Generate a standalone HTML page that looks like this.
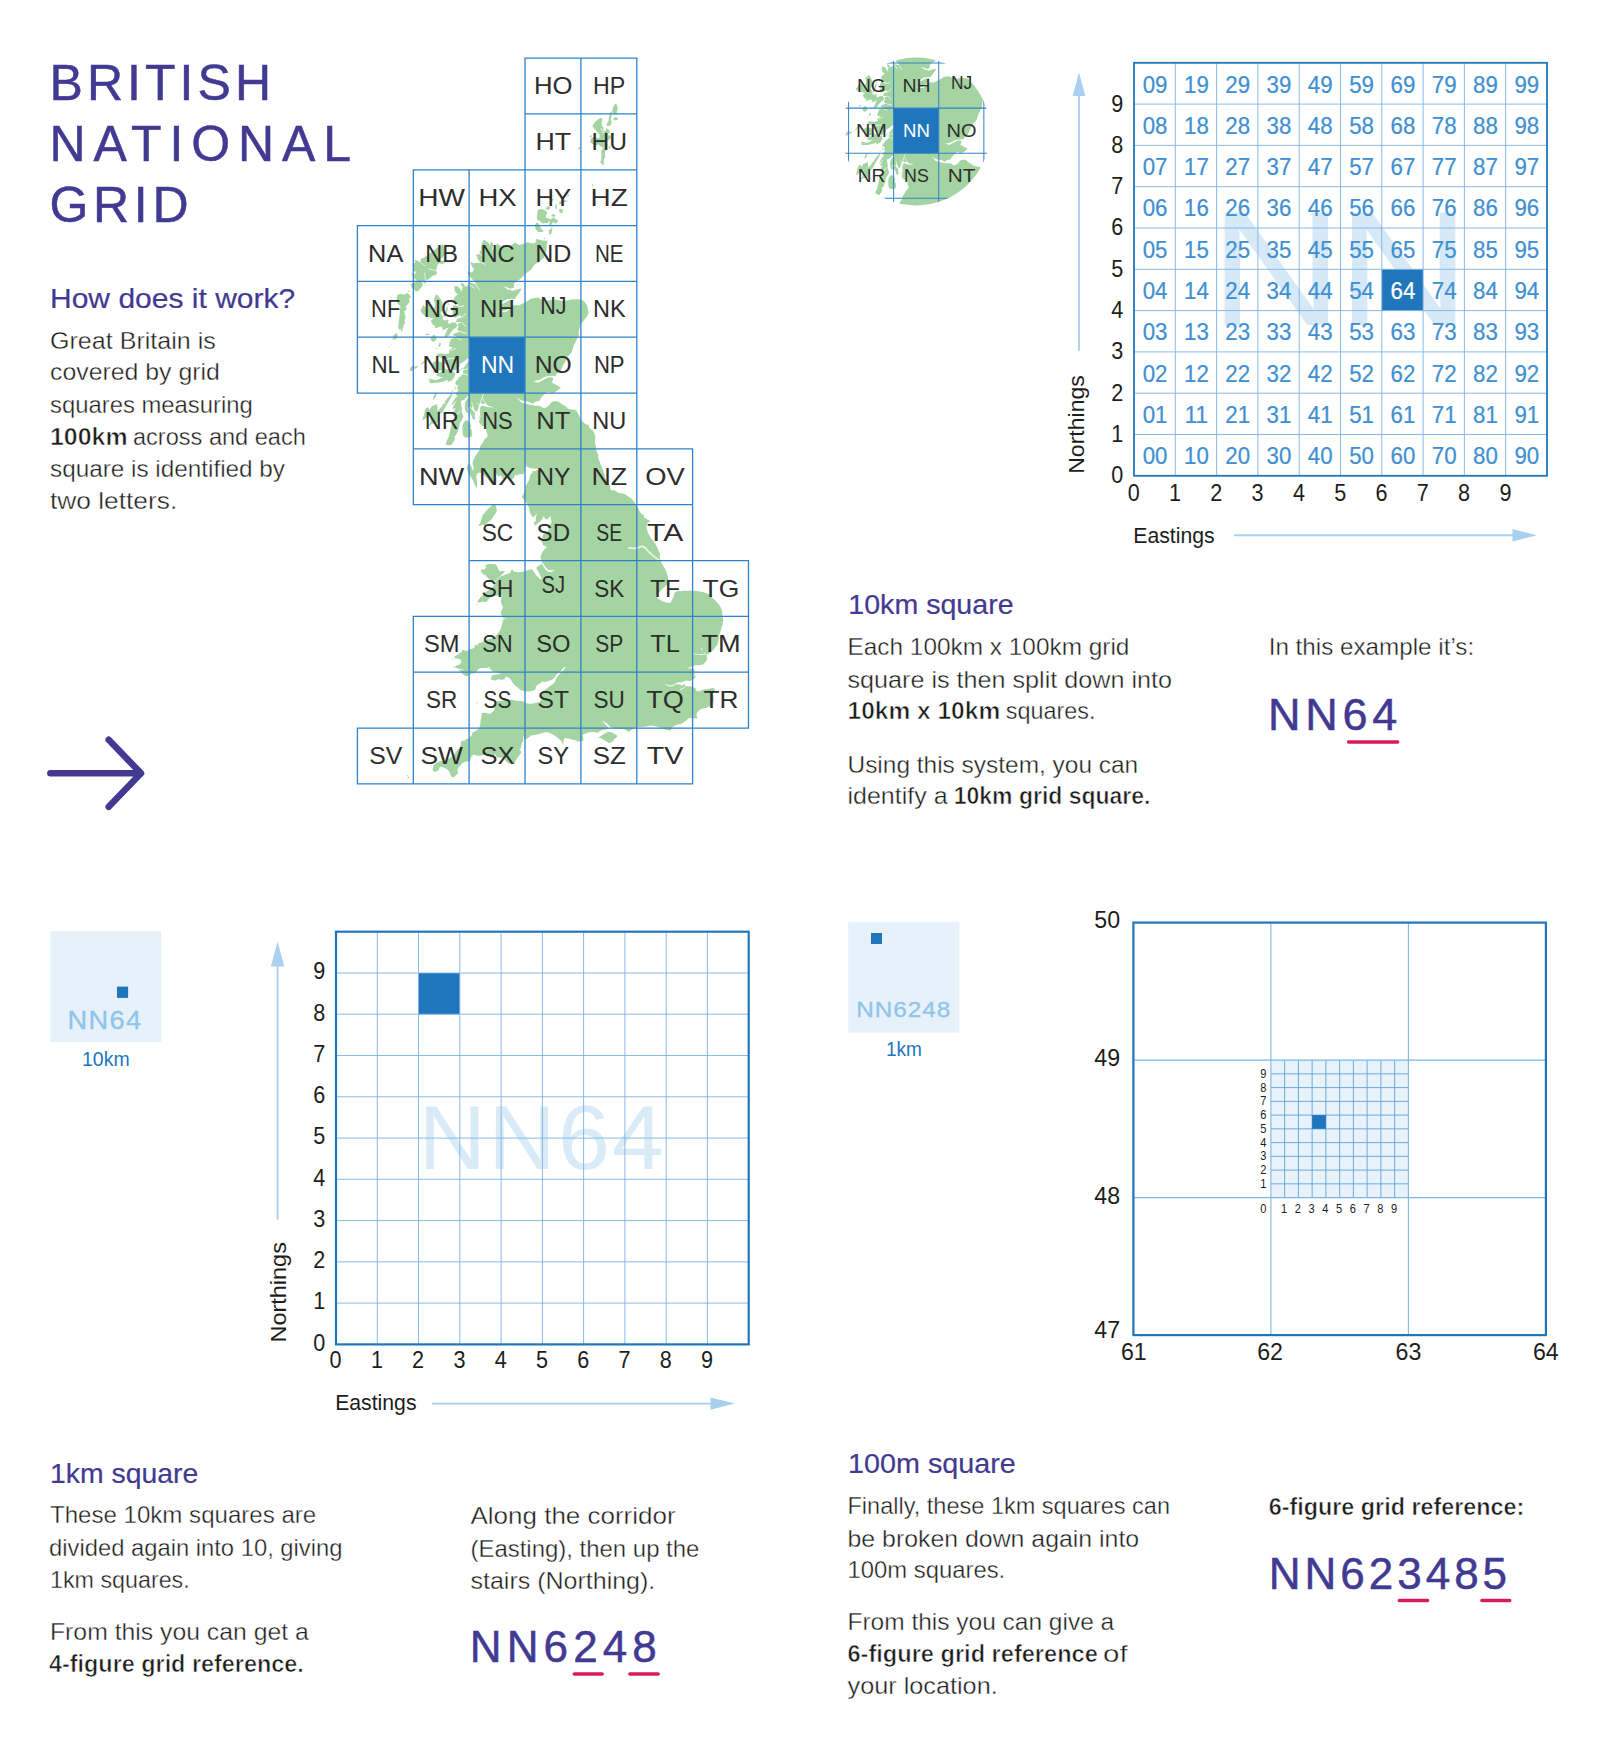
<!DOCTYPE html>
<html lang="en"><head><meta charset="utf-8"><title>British National Grid</title>
<style>html,body{margin:0;padding:0;background:#fff}svg{display:block}text{font-family:"Liberation Sans", sans-serif}</style>
</head><body>
<svg width="1597" height="1739" viewBox="0 0 1597 1739">
<rect width="1597" height="1739" fill="#fff"/>
<defs>
<g id="land">
<path fill="#a5d4a3" d="M483.7,239.5 486.5,241.2 489.3,243.5 489.8,246.8 490.9,241.5 493.2,244.0 492.0,250.7 494.8,247.9 497.1,243.2 500.4,245.7 501.0,251.3 502.7,245.7 506.0,245.7 508.5,246.8 511.6,245.1 515.2,242.6 518.9,245.1 523.9,243.7 527.8,242.3 531.4,243.2 535.1,243.2 536.5,238.7 540.1,240.1 544.0,240.7 547.6,240.4 546.8,245.1 546.5,250.7 545.4,252.9 544.0,257.4 538.7,261.9 534.2,265.0 531.7,268.9 526.7,273.0 523.3,276.1 520.0,279.2 515.8,281.7 513.8,283.9 514.1,287.6 510.5,288.7 506.0,287.0 503.2,286.2 507.1,289.2 510.5,290.1 512.7,290.9 516.6,289.5 521.9,288.4 519.4,292.6 517.5,295.1 514.7,299.0 511.6,298.7 508.2,299.3 503.8,301.5 500.1,304.6 503.8,303.2 508.2,300.7 513.3,299.6 512.2,303.8 511.0,306.3 508.2,308.2 506.0,310.5 502.1,311.3 498.8,311.3 502.7,312.1 506.3,311.6 509.4,309.3 512.2,305.7 515.5,305.1 518.6,305.4 523.3,303.2 527.2,301.2 531.2,298.7 534.5,297.9 538.1,297.6 541.8,299.8 544.6,300.7 548.8,300.4 553.5,299.6 558.0,300.1 563.6,301.2 567.5,300.4 571.1,299.6 577.0,299.3 580.9,299.6 583.7,301.0 587.0,304.9 588.4,311.6 588.4,313.8 586.2,317.4 583.1,321.3 581.2,323.6 579.2,328.9 578.4,333.9 579.2,334.5 577.0,338.9 573.9,345.3 572.5,349.5 571.7,352.6 569.1,355.1 566.9,357.3 565.5,361.3 563.6,364.6 561.9,368.0 560.8,370.5 558.5,372.4 556.3,374.1 555.5,376.1 552.9,375.8 550.7,376.1 547.4,376.3 544.0,377.2 540.1,379.7 536.2,380.5 533.4,381.4 536.7,382.2 538.1,382.8 541.8,380.8 545.7,378.8 548.5,377.4 550.7,376.9 553.2,378.0 552.7,380.8 551.5,382.2 553.5,383.6 556.9,385.3 560.8,387.5 559.4,388.9 556.6,391.1 552.4,393.4 549.6,392.0 547.9,391.7 546.2,392.8 543.4,395.3 540.9,397.8 540.1,400.3 538.1,401.2 535.6,401.5 532.3,404.0 530.9,402.6 527.2,401.5 523.9,400.9 521.1,400.3 518.3,398.4 516.6,397.5 518.9,399.8 521.1,402.6 525.0,403.4 528.9,404.5 532.3,405.1 535.6,405.9 537.9,405.6 540.1,405.9 542.3,407.6 544.3,408.2 547.4,406.8 550.2,404.0 551.0,402.6 553.5,401.2 556.0,401.2 558.3,401.5 560.8,403.4 563.0,404.8 566.6,407.0 568.6,409.0 572.5,409.5 575.9,410.1 577.8,412.9 579.5,416.5 580.9,419.6 583.7,422.7 586.5,424.6 588.4,425.5 589.3,427.7 591.2,429.4 593.2,431.0 594.0,432.7 595.1,435.5 595.4,437.7 595.1,440.5 594.8,443.0 596.0,446.4 596.2,448.9 596.5,451.1 597.9,453.9 598.5,455.6 598.2,457.8 598.8,459.5 599.9,462.3 600.7,464.5 601.6,466.2 601.8,467.1 602.9,470.1 603.8,472.4 604.6,475.2 604.9,477.1 606.6,480.7 608.8,484.1 610.2,485.8 609.9,488.0 611.0,490.2 612.7,490.2 615.0,490.5 618.0,492.7 621.1,493.3 624.7,494.1 628.4,496.4 631.2,498.3 634.2,501.9 635.6,503.9 637.9,507.5 639.5,510.9 641.2,513.7 644.0,515.1 643.5,516.7 646.8,519.3 651.0,521.2 647.9,522.6 647.1,523.7 646.5,527.1 647.4,531.0 648.5,534.1 650.7,537.7 653.5,541.3 656.0,544.9 658.0,549.4 659.9,553.6 659.7,556.7 659.9,558.9 660.8,561.1 662.5,564.5 665.2,568.9 666.9,573.4 668.3,578.4 668.6,581.2 667.8,584.0 664.7,586.8 661.3,590.2 658.0,593.5 656.3,595.7 657.4,598.0 659.7,599.7 662.5,601.3 664.4,601.9 667.5,602.7 670.3,603.0 671.9,600.2 672.8,598.0 673.9,595.7 674.5,593.0 676.4,591.3 680.3,591.3 684.2,590.7 688.2,590.7 691.5,590.7 694.9,590.7 699.3,591.6 702.7,592.1 704.9,592.7 708.3,594.1 711.6,596.9 715.0,600.2 717.8,603.3 720.0,606.1 721.4,609.1 722.2,612.2 722.5,615.8 723.3,620.3 722.8,623.7 721.7,627.0 721.1,629.8 719.4,634.3 718.9,637.6 718.6,640.4 717.8,644.3 715.5,647.1 713.3,649.9 711.1,652.1 709.4,653.2 708.3,654.4 704.9,653.0 702.1,649.9 704.9,653.5 707.1,654.1 703.8,654.1 699.9,654.1 698.2,654.4 701.6,654.9 704.9,654.6 707.1,654.4 706.6,657.2 707.4,659.1 705.5,662.2 702.7,664.4 699.3,665.3 697.1,665.3 694.3,665.0 692.6,666.4 689.8,667.2 687.0,668.3 689.8,668.6 692.6,668.3 694.6,669.4 694.3,673.3 694.6,675.6 691.5,674.7 694.3,676.1 694.9,677.8 692.6,680.0 689.5,680.9 686.5,680.6 682.6,681.7 679.2,682.3 677.0,682.8 673.1,685.1 669.7,685.6 666.4,684.2 663.6,683.4 666.4,685.1 669.2,686.5 673.1,686.2 675.9,684.2 679.2,684.2 682.0,685.6 684.2,684.0 685.9,685.9 687.6,686.2 689.3,686.5 692.6,687.0 695.4,688.4 696.5,690.9 699.3,691.2 702.7,689.8 707.1,689.0 710.5,688.4 712.7,688.1 715.0,689.0 714.7,691.8 712.7,693.4 713.6,696.8 713.9,699.0 713.3,702.4 711.3,704.9 709.4,706.3 706.6,707.7 703.2,708.5 699.9,709.6 697.1,712.4 696.5,715.5 697.6,718.6 694.3,718.3 690.9,718.0 688.7,718.0 685.9,720.8 683.1,722.8 680.3,724.2 677.5,724.4 674.7,725.8 671.9,727.5 670.8,730.3 669.4,730.6 666.4,729.7 663.6,728.9 661.3,728.1 658.0,726.9 654.1,726.1 650.2,725.5 646.2,726.4 642.3,726.9 638.4,727.2 635.1,728.1 632.3,729.2 630.0,730.9 628.6,732.2 626.1,730.3 624.5,729.2 622.2,728.9 620.0,728.3 617.2,728.6 614.4,728.3 612.2,728.1 609.9,726.7 608.3,724.7 606.0,722.8 603.8,721.4 602.1,720.8 603.8,722.8 606.0,725.0 607.7,726.9 608.8,728.3 606.6,729.2 603.8,729.7 601.6,730.3 599.3,731.4 597.6,733.1 595.4,732.2 592.6,732.0 589.8,732.2 586.5,733.1 583.7,734.2 582.6,735.0 583.1,736.7 583.1,738.1 583.7,739.8 582.6,740.9 579.8,741.5 578.6,741.7 575.3,740.3 571.9,739.5 568.6,738.4 565.2,738.1 563.8,739.2 563.6,742.0 563.0,745.6 562.4,742.9 561.6,741.5 558.5,738.4 555.7,736.2 552.4,734.2 549.0,732.8 545.7,732.2 543.4,732.8 540.7,733.6 537.9,734.5 535.1,735.0 531.7,735.3 528.9,737.3 526.1,739.2 524.7,739.8 523.9,737.0 523.3,735.0 523.3,738.4 523.1,740.9 521.7,743.1 521.4,745.4 520.8,747.9 519.4,749.8 521.7,752.1 520.0,754.3 518.9,755.7 517.2,758.2 515.5,760.4 515.2,763.2 512.7,763.8 510.5,763.5 508.2,763.2 506.0,761.3 504.3,758.8 501.5,757.6 498.2,757.4 496.2,756.5 495.4,754.6 493.7,754.9 493.4,757.1 490.4,755.1 487.0,754.3 483.7,754.9 480.3,755.7 476.4,755.4 473.6,754.6 471.4,756.5 470.0,759.9 469.1,761.8 466.3,761.6 463.6,762.4 461.3,764.3 460.2,766.3 459.4,766.0 458.0,768.3 457.4,770.5 458.2,772.7 456.8,774.4 454.6,776.4 452.7,777.5 450.7,776.1 449.9,772.7 447.9,769.7 445.1,768.3 442.3,766.9 439.8,767.1 439.0,769.7 436.7,771.3 434.2,771.9 432.5,769.9 433.1,767.1 433.9,764.6 437.3,762.4 440.1,761.0 442.3,761.0 444.6,762.1 445.7,760.2 449.0,758.5 452.4,756.0 454.6,754.3 456.3,751.5 458.0,749.3 460.2,747.3 460.8,744.3 461.0,741.2 463.0,740.9 464.7,740.6 466.3,738.9 469.1,738.4 471.7,735.3 472.5,732.8 475.3,731.1 478.1,729.5 480.0,726.4 480.3,724.2 480.6,720.8 481.4,717.5 481.7,713.0 485.3,712.7 489.3,714.1 492.0,712.4 493.2,711.3 494.8,709.6 493.7,707.1 492.6,705.4 494.3,703.2 494.0,702.4 497.1,701.3 501.0,701.0 504.3,700.4 508.2,700.1 511.3,699.6 515.0,700.4 518.3,701.0 521.7,701.0 523.9,701.8 527.2,703.5 530.6,703.8 534.5,703.2 537.3,702.4 539.5,702.1 541.2,700.1 541.8,697.4 541.5,695.1 542.9,693.2 542.3,690.9 544.6,690.1 546.8,688.4 549.6,686.2 551.8,684.8 553.5,683.7 555.2,681.2 556.3,678.4 558.5,675.0 561.3,672.2 564.1,669.4 565.8,666.6 563.6,667.8 560.2,671.7 556.9,674.2 555.2,676.4 552.9,679.2 550.2,680.3 547.4,681.4 544.6,682.0 542.6,681.4 539.5,683.7 537.3,685.1 535.9,686.5 535.3,689.8 532.8,690.7 531.2,691.2 527.8,691.5 523.9,690.9 520.5,690.1 517.7,687.6 515.0,685.6 512.7,683.1 511.0,680.0 508.8,677.5 506.0,676.4 504.9,678.4 504.3,679.5 501.0,679.8 498.2,679.2 496.0,680.6 493.2,680.3 490.6,679.2 491.5,676.7 493.2,675.0 496.0,674.5 499.3,674.2 501.0,673.9 498.2,673.1 496.5,672.5 493.7,672.2 491.5,670.3 489.5,668.3 489.3,666.6 487.6,668.0 484.8,668.0 482.0,668.0 479.2,668.6 477.2,670.3 476.7,672.0 474.7,673.3 471.9,673.6 469.1,674.7 467.7,676.1 465.2,675.9 463.0,674.5 461.3,672.0 459.1,670.8 458.0,670.6 461.3,670.0 464.7,669.7 461.3,669.2 458.8,668.9 455.7,667.5 453.8,667.2 456.8,665.5 459.6,664.4 461.3,662.2 460.8,659.7 458.0,658.6 455.7,658.8 453.8,656.9 456.3,655.2 459.1,654.1 461.3,652.1 463.3,649.3 465.2,650.7 466.9,651.0 469.1,649.6 471.9,649.1 474.2,647.4 475.8,644.3 478.1,645.7 478.1,643.2 481.4,642.6 484.8,640.7 487.6,639.8 490.6,638.5 493.2,637.6 494.8,636.8 497.6,633.7 499.9,630.4 501.5,626.7 502.4,623.1 502.9,620.0 503.8,618.9 506.6,618.4 503.8,618.1 502.4,617.5 501.5,615.0 500.7,611.9 502.1,609.4 503.2,607.5 501.5,604.1 501.0,600.8 501.3,598.5 501.0,596.3 502.7,594.9 499.9,595.5 497.1,595.5 493.7,596.3 490.6,597.1 488.1,599.4 487.0,601.6 484.8,602.2 482.5,601.6 480.3,602.4 478.4,602.2 477.0,602.2 478.4,599.7 480.9,596.9 484.2,593.5 487.6,591.0 490.4,589.3 493.2,586.5 494.6,583.7 495.7,581.5 498.2,578.7 500.1,576.8 501.8,575.9 504.3,575.1 507.1,574.0 509.9,572.9 511.6,569.8 512.7,569.5 513.3,571.2 515.5,572.0 518.3,572.3 521.7,572.0 525.0,570.9 528.4,570.1 532.0,568.9 533.9,571.7 535.6,574.2 537.6,576.8 539.5,578.7 541.8,579.6 541.2,577.3 539.8,574.5 538.4,571.7 536.7,568.9 536.5,567.0 537.9,566.4 540.1,564.8 541.8,563.6 543.2,566.2 544.6,568.4 546.2,570.3 548.5,572.0 551.8,572.0 554.6,570.1 551.3,570.3 548.5,570.1 546.2,567.8 544.6,565.6 542.3,562.5 541.2,560.3 540.4,557.5 541.2,554.4 542.9,551.6 544.6,549.1 546.8,547.2 544.8,545.8 543.2,545.2 542.3,543.0 542.1,540.5 542.3,537.1 543.2,534.6 544.0,533.5 545.7,534.3 547.4,532.1 549.0,529.6 547.9,527.4 548.5,526.0 550.2,524.6 551.5,522.6 551.3,520.4 550.7,518.7 551.0,516.2 549.0,517.6 547.9,519.0 546.2,519.5 544.6,517.9 543.7,515.9 542.9,517.9 541.8,519.8 540.1,521.8 537.9,522.9 536.7,524.3 535.3,525.4 534.5,522.6 535.9,520.4 535.6,518.4 536.2,516.2 536.7,514.0 534.8,515.6 533.9,517.6 531.7,515.9 530.0,512.8 529.5,509.8 528.6,506.7 526.7,503.3 524.7,500.3 522.8,498.3 521.9,496.6 523.1,494.7 524.2,491.9 524.7,488.8 525.8,486.3 526.7,484.1 528.4,481.6 529.5,479.1 530.0,476.3 530.9,473.8 532.8,472.4 531.7,470.7 534.5,471.2 536.7,470.1 539.5,470.4 542.3,468.7 543.2,467.9 540.1,468.2 537.3,468.7 535.9,468.7 532.8,468.5 530.0,467.9 527.8,467.3 526.1,465.4 524.7,467.9 524.5,471.0 523.6,473.2 523.6,474.3 520.5,474.3 518.3,474.6 516.6,476.0 515.5,473.8 514.4,477.1 512.7,479.1 510.5,480.5 508.2,480.2 507.1,476.8 506.0,479.6 504.9,480.5 502.7,478.5 501.5,476.3 500.7,474.9 499.3,476.5 497.6,475.4 496.0,473.5 495.1,471.8 494.0,474.0 494.3,477.9 495.4,481.3 496.0,484.4 494.3,485.5 491.5,484.1 489.3,481.6 487.6,478.5 484.8,476.0 482.0,474.0 480.0,472.6 477.5,473.5 476.1,476.3 476.7,479.6 477.2,483.0 477.0,486.0 477.8,487.7 475.8,486.9 474.4,483.8 473.1,480.5 470.8,477.1 468.9,474.6 467.7,471.2 466.9,467.9 467.5,464.8 468.0,464.3 470.0,464.5 471.1,466.2 472.2,469.0 472.5,470.4 473.9,468.5 473.1,465.4 472.5,462.9 473.6,459.5 475.3,456.2 477.0,453.4 479.5,450.0 480.3,446.1 482.5,443.3 484.8,438.9 487.6,436.6 487.3,433.8 486.5,431.6 485.9,427.7 484.2,426.6 482.0,425.5 480.0,423.8 478.9,421.6 480.0,418.8 480.3,416.0 480.0,413.2 479.8,410.4 480.3,408.2 480.6,406.5 482.5,405.6 484.8,406.2 487.0,407.0 489.3,407.3 491.5,407.3 494.3,408.4 491.5,406.5 489.3,405.9 487.6,405.4 485.6,403.1 484.2,404.0 482.0,404.0 480.6,402.6 479.8,404.0 478.6,404.8 478.9,405.9 478.1,408.7 476.7,411.5 474.7,410.9 473.9,408.2 472.8,404.8 472.2,407.0 471.7,409.0 470.8,407.6 469.1,407.6 467.7,408.4 468.6,410.9 468.6,413.5 466.3,412.6 465.2,410.4 464.7,406.5 465.2,402.0 466.9,399.5 469.1,396.4 467.7,395.9 465.2,398.7 463.3,400.3 461.9,400.3 460.8,401.5 461.3,405.4 461.9,408.7 461.6,410.7 462.4,413.7 463.6,416.8 461.9,419.9 459.6,423.8 459.1,427.7 458.0,431.0 456.3,434.4 454.1,437.2 455.2,438.0 454.1,441.1 452.4,443.6 451.8,444.7 449.0,445.3 446.2,445.0 446.0,442.8 447.1,440.0 448.5,437.5 449.3,434.4 450.1,431.0 450.7,427.7 452.1,423.2 453.2,420.4 454.6,417.1 453.5,415.4 452.7,413.2 453.8,410.9 455.7,408.2 453.5,408.7 452.1,408.7 453.5,405.9 455.7,402.0 456.8,399.8 454.6,402.6 452.4,405.1 451.5,405.4 452.4,402.6 454.1,399.8 455.7,397.5 457.4,396.4 456.3,395.0 455.7,393.6 457.4,391.7 459.1,389.5 457.7,389.7 457.1,387.5 458.8,385.5 456.8,385.3 455.2,383.9 455.7,381.6 457.4,379.7 459.1,378.0 460.8,376.6 461.9,374.4 463.3,373.5 463.0,371.6 463.8,369.6 463.0,368.5 464.4,366.8 466.1,364.6 468.0,362.1 469.7,360.7 470.3,359.0 469.7,357.3 465.8,359.9 463.3,362.1 459.9,363.8 459.4,367.1 456.8,369.1 454.3,370.7 452.9,369.6 451.3,368.2 448.5,366.0 445.7,364.0 444.0,362.4 443.7,360.4 445.7,359.9 448.5,359.3 451.8,358.2 449.6,357.9 447.4,358.7 444.6,358.5 442.3,358.5 440.6,357.6 438.4,357.1 436.5,355.4 437.9,353.7 440.6,353.4 442.9,353.7 445.7,354.0 448.5,353.4 449.9,352.3 448.7,351.2 449.3,349.5 451.3,348.7 453.5,347.6 451.3,347.3 449.0,346.2 448.7,344.8 449.9,344.2 449.3,342.8 450.4,341.2 451.0,338.9 452.9,338.6 456.0,337.5 457.4,338.4 455.7,336.1 453.8,336.1 452.9,334.7 454.6,333.3 456.8,332.8 458.5,331.9 460.5,331.7 458.5,330.6 456.8,329.7 458.0,327.8 458.8,326.4 458.0,325.5 458.0,323.6 459.6,323.0 461.3,322.7 462.4,322.7 460.2,321.9 458.0,322.2 456.0,321.9 456.8,319.4 458.2,318.3 460.2,318.0 462.2,317.2 460.8,316.3 459.6,315.2 457.7,316.6 455.2,317.7 452.9,316.3 452.4,314.4 452.9,312.4 452.1,309.9 452.4,307.7 453.5,304.9 455.2,305.4 457.4,306.0 459.1,306.5 458.0,304.6 455.7,303.8 454.3,302.4 453.8,298.7 455.2,296.5 457.1,295.1 458.2,294.3 456.6,293.4 455.2,292.0 454.3,288.7 454.6,285.9 456.8,285.9 458.5,287.0 460.2,289.2 461.3,291.7 462.2,289.2 462.7,287.0 461.0,284.8 461.3,282.3 463.3,283.7 464.9,285.9 466.3,286.7 467.7,285.0 468.6,284.2 468.3,282.3 470.3,283.1 471.9,283.1 474.4,283.9 476.1,284.8 475.0,282.0 473.1,280.3 470.8,277.5 468.9,275.3 467.7,273.0 468.0,271.1 470.0,271.9 471.9,272.5 473.3,270.8 474.2,268.9 472.5,267.5 471.4,265.2 470.3,261.6 471.9,262.4 473.9,263.3 475.8,263.0 478.6,262.7 481.4,262.7 479.2,261.3 477.8,259.6 477.2,258.0 477.2,256.0 476.4,254.6 478.4,254.3 480.3,254.3 479.5,252.7 480.0,251.0 481.4,249.9 480.6,247.9 481.4,245.1 482.5,242.1Z"/>
<path fill="#a5d4a3" d="M436.0,294.3 438.1,295.4 440.6,299.0 442.3,302.6 442.6,306.5 442.0,310.5 440.6,313.0 442.3,315.5 443.2,318.3 442.9,320.2 444.6,319.9 446.5,320.8 448.5,323.3 449.3,324.1 451.8,322.5 453.8,322.2 455.5,322.5 457.1,324.4 457.4,326.1 455.5,328.0 452.9,330.0 450.7,332.8 449.3,335.0 446.8,337.2 444.6,337.5 444.8,335.0 446.2,332.5 446.8,330.6 448.2,328.3 449.9,327.5 446.8,328.3 444.6,329.4 442.3,330.0 442.6,327.5 441.2,326.4 439.2,326.9 436.2,328.0 434.5,328.3 435.3,326.1 433.4,325.0 431.7,323.0 430.9,320.5 432.3,319.4 434.2,318.5 432.0,318.3 430.0,317.4 428.4,316.9 427.2,317.2 425.0,316.0 422.5,314.1 420.5,310.7 421.7,308.2 423.3,305.1 425.0,307.1 427.0,309.9 427.8,307.1 426.7,304.3 426.1,300.1 427.8,301.5 429.5,304.3 431.7,306.5 433.9,308.5 435.1,306.0 434.8,303.2 433.9,300.4 434.8,297.1Z M443.7,317.4 445.7,316.0 446.8,313.0 447.6,309.9 447.9,306.5 446.8,307.1 445.7,309.9 444.6,313.0 443.4,314.9Z M447.6,305.7 448.7,304.6 448.5,302.4 447.6,303.2Z M432.5,362.7 435.6,361.0 438.4,361.3 441.5,362.1 442.9,364.9 444.3,367.1 445.4,368.8 447.4,369.6 450.1,370.2 452.4,371.0 454.1,372.1 455.2,373.3 454.9,375.8 453.8,377.7 452.4,380.0 450.1,381.1 447.9,381.9 447.1,379.4 445.7,380.8 443.4,381.4 440.1,382.2 436.7,382.8 433.4,383.0 430.6,383.3 429.2,382.2 429.8,380.0 430.6,378.8 432.8,379.4 435.6,380.2 438.4,379.4 441.2,378.0 443.4,377.2 440.6,376.9 438.4,376.3 437.3,376.1 436.2,374.7 437.6,373.0 439.5,373.3 441.2,371.6 443.2,370.5 440.6,370.5 438.1,370.5 436.2,369.6 434.5,370.5 433.7,369.1 435.3,367.7 433.7,366.8 432.3,365.2Z M428.4,380.5 428.9,378.6 429.8,378.8 429.2,380.8Z M420.3,364.0 423.3,361.8 425.8,359.6 427.8,357.6 428.1,358.5 425.8,361.0 423.6,363.2 421.4,364.3Z M409.6,370.2 411.0,366.6 413.3,366.0 415.5,366.8 418.0,365.7 418.3,366.6 415.8,368.5 413.5,368.8 412.2,370.7 410.5,371.3Z M430.9,337.2 433.4,334.7 435.9,335.9 436.7,338.6 435.1,341.2 432.5,341.7 430.6,339.5Z M438.1,346.2 439.5,342.8 440.9,343.1 440.6,345.6 439.5,346.7Z M425.0,334.2 428.4,333.6 429.5,334.7 426.7,335.3Z M435.9,349.0 436.7,347.9 437.6,348.4 436.7,349.3Z M432.8,398.9 433.9,395.9 435.6,392.8 436.7,393.4 435.9,396.4 434.5,398.7 433.4,399.8Z M437.3,411.5 439.5,409.0 441.8,406.5 442.9,404.0 445.1,403.1 444.6,401.7 446.2,399.8 449.0,396.4 451.0,393.9 452.1,392.8 452.1,394.8 451.0,397.8 449.0,400.9 447.4,403.7 445.7,406.5 444.3,409.5 442.9,411.8 441.2,413.5 439.0,413.5 437.6,412.6Z M437.0,404.5 437.6,407.6 437.3,410.1 438.1,413.2 439.0,416.8 438.7,419.9 437.9,422.4 435.6,423.8 433.7,423.8 432.0,423.5 429.8,425.7 428.4,426.3 429.5,424.1 430.6,421.8 430.6,418.8 430.3,416.0 429.5,414.3 428.1,415.1 427.2,417.1 425.0,419.0 422.5,420.2 423.0,417.6 424.2,414.3 424.7,410.7 425.8,408.2 428.1,407.3 429.5,410.1 430.6,408.2 431.7,406.2 433.9,405.4 436.2,404.2Z M448.7,423.2 449.9,420.4 450.7,418.5 450.1,421.3 449.3,423.5Z M466.6,419.9 468.6,421.6 470.3,423.5 470.8,426.6 470.5,428.5 471.9,430.2 471.9,432.7 472.2,435.0 471.1,436.9 468.6,437.5 465.8,437.5 463.6,436.6 462.7,434.1 462.7,430.8 462.4,428.0 462.7,425.2 463.8,422.4 465.2,420.7Z M470.0,407.9 471.4,408.7 472.8,410.7 473.9,411.5 475.0,412.9 474.7,415.7 475.3,417.9 474.2,419.9 472.5,418.8 471.9,416.2 471.1,414.3 470.0,412.9 469.4,410.4 469.1,408.7Z M478.4,418.2 479.2,416.2 479.8,417.4 478.9,418.8Z M495.1,503.6 496.2,507.5 496.8,509.5 496.5,512.0 494.3,515.1 492.0,518.7 490.9,520.1 488.7,521.8 486.5,524.0 484.8,525.1 482.3,524.8 480.0,525.7 478.1,525.4 479.8,523.7 480.9,521.2 481.7,518.4 482.5,515.3 484.8,512.8 487.0,510.0 489.8,507.3 492.3,505.0Z M597.1,738.1 599.9,736.7 602.7,734.8 606.0,733.1 608.5,731.4 611.0,732.2 613.8,733.6 616.1,734.8 617.5,736.2 616.4,737.6 614.4,738.7 613.6,740.3 612.2,742.0 609.4,742.9 608.5,743.1 605.7,740.9 603.2,739.5 600.4,738.1 598.2,737.8Z M500.1,576.2 502.1,574.2 502.9,574.0 504.9,570.9 502.1,570.9 499.3,571.2 497.9,568.1 496.0,564.5 493.2,564.2 489.8,563.9 486.7,564.5 485.6,564.8 485.9,567.3 484.8,569.2 482.5,569.5 481.2,569.2 480.9,571.7 482.8,573.4 483.7,575.1 485.6,574.8 486.7,577.0 488.4,578.7 490.4,579.8 491.8,581.5 493.2,581.2 494.3,580.4 495.7,580.7 497.1,579.0 499.0,577.3Z M476.4,703.5 477.0,701.3 477.5,701.5 477.2,703.8Z M407.1,778.3 408.5,776.6 409.4,777.5 408.2,778.6Z M406.3,776.1 407.1,775.0 408.0,775.5 407.1,776.4Z M442.3,244.3 444.3,247.4 444.0,250.7 444.6,254.9 442.3,258.0 440.1,259.6 441.2,261.0 443.4,260.5 445.4,260.5 444.3,263.3 441.8,264.4 440.1,263.3 438.7,263.6 437.3,265.5 436.7,268.3 436.2,270.8 437.0,273.9 434.5,275.6 432.3,275.8 430.6,277.8 428.4,279.2 425.6,280.3 425.6,283.7 423.3,282.3 421.9,281.4 422.8,285.3 421.1,287.8 418.9,290.4 416.6,291.2 415.8,291.7 414.1,289.2 411.9,287.8 410.8,284.2 413.3,283.1 415.5,282.3 417.7,281.7 415.8,279.7 413.5,277.5 412.4,275.0 414.9,274.2 416.1,271.9 413.8,271.1 413.0,268.0 412.7,265.0 413.5,262.4 415.5,263.0 414.9,260.8 415.5,259.4 417.7,261.0 420.3,262.2 420.5,259.4 421.4,258.3 423.6,258.0 426.7,255.5 430.0,253.2 433.4,250.7 436.7,247.9 439.8,245.4Z M407.7,291.7 408.8,290.4 409.6,291.2 408.5,292.3Z M397.6,294.5 401.0,294.0 404.3,294.8 407.1,293.1 409.4,294.8 411.0,296.5 409.6,298.4 408.8,299.0 409.9,301.2 408.2,303.8 406.6,305.7 405.4,306.5 406.8,308.5 405.4,310.7 403.5,311.6 404.3,312.1 404.9,314.4 405.7,317.7 404.3,320.5 405.2,322.7 403.8,325.0 403.5,327.2 402.4,328.9 401.8,326.4 402.7,329.7 402.1,331.7 401.0,331.4 401.3,329.4 399.0,329.4 398.2,327.2 398.5,323.3 399.0,319.4 399.6,315.5 399.9,312.1 400.1,309.3 400.4,306.3 398.5,304.6 397.3,302.6 396.5,300.1 396.8,297.3Z M396.8,333.1 397.6,335.6 397.3,337.8 395.4,339.5 393.4,339.2 392.6,340.0 392.9,337.5 393.7,335.3 395.1,333.9Z M388.4,347.3 389.0,345.6 389.5,346.5 389.0,347.6Z M390.9,344.5 391.5,343.4 392.0,343.9 391.5,344.8Z M538.1,209.7 541.8,209.1 545.7,210.8 547.4,212.7 546.0,215.5 545.4,217.5 547.9,218.1 550.2,219.2 552.4,218.3 554.1,216.9 555.7,219.4 558.3,220.0 557.1,222.8 554.6,223.4 553.2,221.7 551.5,224.8 549.0,225.3 549.6,222.8 549.6,220.6 547.4,223.6 545.1,223.1 542.6,223.6 540.7,222.0 539.3,220.6 537.3,219.7 537.0,216.7 537.6,211.6Z M536.2,222.5 534.8,225.3 534.8,225.9 535.6,229.2 538.4,232.0 541.8,232.0 543.4,231.5 542.9,230.1 541.2,228.7 539.8,225.9 538.7,223.4Z M549.9,228.9 552.4,229.5 551.3,233.4 550.2,234.8 549.0,234.2 548.8,230.9Z M550.4,227.8 552.1,227.0 552.7,228.1 551.0,228.7Z M545.7,208.3 547.9,206.0 550.4,207.2 549.3,209.4 546.8,209.7Z M548.2,198.0 550.2,196.6 553.5,199.6 552.9,201.6 550.2,199.9Z M552.7,196.6 553.2,194.9 553.8,195.4 553.5,196.8Z M555.5,204.1 556.9,204.4 556.6,208.8 555.2,209.1Z M558.5,202.7 561.9,199.9 565.8,200.2 568.3,201.3 564.1,202.1 561.9,203.8 559.6,204.4Z M558.8,209.4 561.3,208.8 563.6,210.5 561.9,213.3 559.6,212.5Z M551.3,215.0 554.3,214.1 555.5,216.1 552.7,216.9Z M566.9,196.0 568.9,194.0 569.1,195.4 567.8,196.6Z M544.0,238.7 544.8,237.6 545.4,238.4 544.6,239.3Z M592.1,186.2 592.6,184.3 593.5,184.6 593.2,186.5Z M603.5,165.6 601.3,163.6 600.2,162.2 601.6,158.6 601.3,154.7 601.8,151.1 603.2,147.7 601.0,146.6 598.5,144.6 595.4,145.5 592.3,144.1 590.1,142.1 591.2,137.9 593.7,137.1 596.8,138.2 599.9,137.4 599.3,134.0 597.1,131.8 595.4,130.1 592.3,125.9 594.3,123.1 597.6,119.5 601.0,117.8 602.7,119.0 601.6,122.3 601.8,125.7 603.8,127.9 603.2,130.4 604.3,131.8 606.3,129.8 605.5,127.3 608.0,129.3 609.9,131.8 609.7,128.4 610.5,130.7 609.1,132.9 607.4,134.9 610.2,135.4 611.3,137.7 608.5,140.2 606.6,142.1 607.7,144.4 607.4,146.6 606.3,149.1 604.9,152.5 605.2,156.4 603.8,159.4 603.8,162.5Z M606.0,125.1 608.3,121.7 609.1,116.7 610.5,111.7 611.9,111.4 611.6,115.6 610.8,119.0 611.6,122.9 610.2,125.7 607.7,125.9Z M612.7,113.1 612.4,109.5 613.6,106.1 615.0,103.9 616.6,104.2 617.8,107.8 616.9,111.7 616.4,114.5 613.8,114.2Z M613.3,119.5 615.0,117.3 618.0,117.8 617.8,119.8 615.2,120.6Z M610.8,134.6 613.6,132.6 614.4,134.0 611.9,135.7Z M608.3,148.3 609.4,145.5 610.5,146.6 609.9,148.8Z M577.8,149.1 579.2,146.6 580.0,148.3 578.9,149.7Z M589.5,136.8 591.5,134.9 592.1,136.3 590.4,137.4Z M601.0,152.5 601.8,149.1 602.4,152.5Z M534.5,526.0 533.9,523.2 534.8,520.9 535.3,523.2Z M687.6,687.3 690.4,686.5 694.3,687.6 696.0,689.5 692.1,689.3 688.7,688.7Z M587.3,425.5 588.4,424.3 589.3,425.2 588.1,426.0Z M454.3,389.7 454.9,386.4 455.7,386.9 455.2,389.7Z M451.5,391.4 452.4,389.7 453.2,390.6 452.4,391.7Z M458.0,372.4 460.2,369.9 462.4,367.4 462.7,368.0 460.8,370.5 458.5,372.7Z M458.2,378.6 459.4,376.6 460.2,376.9 459.1,378.8Z M432.3,371.9 434.5,370.7 435.6,371.6 433.4,372.7Z M446.0,320.8 447.6,319.4 449.0,320.5 447.4,321.9Z M412.7,281.7 414.1,280.0 414.9,281.1 413.5,282.5Z M411.0,274.4 411.9,273.0 412.4,273.9 411.6,275.0Z M420.8,262.4 421.7,259.9 422.8,260.8 421.9,263.0Z M476.1,255.2 476.7,254.1 477.2,254.6 476.7,255.5Z M466.9,277.5 467.7,276.4 468.3,277.0 467.5,277.8Z M453.2,667.5 453.8,666.6 454.6,666.9 454.1,667.8Z M452.1,659.4 452.7,658.0 453.2,658.6 452.7,659.7Z M475.6,604.7 476.1,603.6 476.7,604.1 476.1,605.0Z M620.0,728.9 621.1,726.4 622.2,726.7 621.7,728.9Z M691.5,677.8 694.3,675.6 696.0,676.7 693.2,678.9Z M692.1,665.5 694.9,664.1 696.5,664.7 693.7,665.8Z M679.8,682.0 682.0,680.9 683.1,681.7 680.9,682.6Z"/>
<path fill="none" stroke="#fff" stroke-opacity="0.85" stroke-width="1.5" stroke-linecap="round" stroke-linejoin="round" d="M628.5,547.8 633.0,548.5 637.0,548.0 642.0,546.2 645.0,547.5 648.0,551.0 652.0,555.0 656.0,558.0 659.1,560.3"/>
<path fill="none" stroke="#fff" stroke-opacity="0.85" stroke-width="0.9" stroke-linecap="round" stroke-linejoin="round" d="M480.6,402.6 481.7,398.7 483.1,394.8 485.6,390.8"/>
<path fill="none" stroke="#fff" stroke-opacity="0.85" stroke-width="0.8" stroke-linecap="round" stroke-linejoin="round" d="M485.3,403.1 483.7,400.3 482.5,398.1"/>
<path fill="none" stroke="#fff" stroke-opacity="0.85" stroke-width="0.8" stroke-linecap="round" stroke-linejoin="round" d="M478.4,403.7 477.0,402.9"/>
<path fill="none" stroke="#fff" stroke-opacity="0.85" stroke-width="0.8" stroke-linecap="round" stroke-linejoin="round" d="M472.8,404.8 471.9,402.6"/>
<path fill="none" stroke="#fff" stroke-opacity="0.85" stroke-width="0.7" stroke-linecap="round" stroke-linejoin="round" d="M470.8,407.6 469.1,407.0 468.0,409.3 468.9,412.1"/>
<path fill="none" stroke="#fff" stroke-opacity="0.85" stroke-width="1.0" stroke-linecap="round" stroke-linejoin="round" d="M454.6,417.1 456.8,414.3 460.2,411.5"/>
<path fill="none" stroke="#fff" stroke-opacity="0.85" stroke-width="0.9" stroke-linecap="round" stroke-linejoin="round" d="M462.4,374.1 465.8,374.1 469.1,375.5 471.9,372.4 475.3,368.0"/>
<path fill="none" stroke="#fff" stroke-opacity="0.85" stroke-width="0.8" stroke-linecap="round" stroke-linejoin="round" d="M463.8,369.6 466.3,369.4 468.6,367.7"/>
<path fill="none" stroke="#fff" stroke-opacity="0.85" stroke-width="0.9" stroke-linecap="round" stroke-linejoin="round" d="M451.8,358.2 455.2,358.7 458.5,359.0"/>
<path fill="none" stroke="#fff" stroke-opacity="0.85" stroke-width="0.8" stroke-linecap="round" stroke-linejoin="round" d="M449.0,350.1 452.4,350.1 455.7,348.4"/>
<path fill="none" stroke="#fff" stroke-opacity="0.85" stroke-width="0.9" stroke-linecap="round" stroke-linejoin="round" d="M456.0,337.5 458.5,338.9 461.3,339.8"/>
<path fill="none" stroke="#fff" stroke-opacity="0.85" stroke-width="1.0" stroke-linecap="round" stroke-linejoin="round" d="M460.5,331.7 463.6,332.8 466.3,333.3"/>
<path fill="none" stroke="#fff" stroke-opacity="0.85" stroke-width="0.9" stroke-linecap="round" stroke-linejoin="round" d="M462.4,322.7 464.1,324.7 465.8,326.6"/>
<path fill="none" stroke="#fff" stroke-opacity="0.85" stroke-width="1.0" stroke-linecap="round" stroke-linejoin="round" d="M462.2,317.2 464.1,315.2 465.8,313.8"/>
<path fill="none" stroke="#fff" stroke-opacity="0.85" stroke-width="1.0" stroke-linecap="round" stroke-linejoin="round" d="M459.1,306.5 461.3,306.3 463.6,306.0"/>
<path fill="none" stroke="#fff" stroke-opacity="0.85" stroke-width="1.0" stroke-linecap="round" stroke-linejoin="round" d="M468.6,284.2 471.4,285.9 474.2,288.1"/>
<path fill="none" stroke="#fff" stroke-opacity="0.85" stroke-width="1.0" stroke-linecap="round" stroke-linejoin="round" d="M476.1,284.8 477.8,287.3 479.2,289.8"/>
<path fill="none" stroke="#fff" stroke-opacity="0.85" stroke-width="0.8" stroke-linecap="round" stroke-linejoin="round" d="M481.4,262.7 483.7,263.6 485.3,265.2"/>
<path fill="none" stroke="#fff" stroke-opacity="0.85" stroke-width="0.8" stroke-linecap="round" stroke-linejoin="round" d="M480.3,254.3 482.5,255.5"/>
<path fill="none" stroke="#fff" stroke-opacity="0.85" stroke-width="0.9" stroke-linecap="round" stroke-linejoin="round" d="M498.8,311.3 501.5,312.1 506.0,311.0"/>
<path fill="none" stroke="#fff" stroke-opacity="0.85" stroke-width="1.1" stroke-linecap="round" stroke-linejoin="round" d="M508.2,299.3 503.8,301.5 500.1,304.6"/>
<path fill="none" stroke="#fff" stroke-opacity="0.85" stroke-width="0.8" stroke-linecap="round" stroke-linejoin="round" d="M698.2,654.4 695.4,654.1 692.6,653.5"/>
<path fill="none" stroke="#fff" stroke-opacity="0.85" stroke-width="0.8" stroke-linecap="round" stroke-linejoin="round" d="M702.1,649.9 701.0,647.9"/>
<path fill="none" stroke="#fff" stroke-opacity="0.85" stroke-width="0.9" stroke-linecap="round" stroke-linejoin="round" d="M685.9,685.9 683.1,688.4 680.3,689.5"/>
<path fill="none" stroke="#fff" stroke-opacity="0.85" stroke-width="0.8" stroke-linecap="round" stroke-linejoin="round" d="M442.3,403.7 444.6,403.1"/>
<path fill="none" stroke="#fff" stroke-opacity="0.85" stroke-width="0.8" stroke-linecap="round" stroke-linejoin="round" d="M436.2,270.8 432.3,269.7 428.9,269.1"/>
<path fill="none" stroke="#fff" stroke-opacity="0.85" stroke-width="0.8" stroke-linecap="round" stroke-linejoin="round" d="M425.6,280.3 425.0,277.0 424.7,273.0"/>
<path fill="none" stroke="#fff" stroke-opacity="0.85" stroke-width="0.8" stroke-linecap="round" stroke-linejoin="round" d="M420.3,262.2 422.8,264.1 425.0,265.8"/>
<path fill="none" stroke="#fff" stroke-opacity="0.85" stroke-width="0.8" stroke-linecap="round" stroke-linejoin="round" d="M601.0,128.4 602.1,130.7 603.2,132.9"/>
</g>
<clipPath id="mini"><circle cx="916.2" cy="131.5" r="74"/></clipPath>
</defs>
<use href="#land"/>
<rect x="469.1" y="337.2" width="55.9" height="55.8" fill="#2076bd"/>
<path fill="none" stroke="#2f82c9" stroke-width="1.3" d="M356.8,225.6h57.1M356.8,281.4h57.1M356.8,337.2h57.1M356.8,393.1h57.1M356.8,728.1h57.1M356.8,783.9h57.1M412.7,169.8h57.1M412.7,225.6h57.1M412.7,281.4h57.1M412.7,337.2h57.1M412.7,393.1h57.1M412.7,448.9h57.1M412.7,504.7h57.1M412.7,616.4h57.1M412.7,672.2h57.1M412.7,728.1h57.1M412.7,783.9h57.1M468.5,169.8h57.1M468.5,225.6h57.1M468.5,281.4h57.1M468.5,337.2h57.1M468.5,393.1h57.1M468.5,448.9h57.1M468.5,504.7h57.1M468.5,560.6h57.1M468.5,616.4h57.1M468.5,672.2h57.1M468.5,728.1h57.1M468.5,783.9h57.1M524.4,58.1h57.1M524.4,113.9h57.1M524.4,169.8h57.1M524.4,225.6h57.1M524.4,281.4h57.1M524.4,337.2h57.1M524.4,393.1h57.1M524.4,448.9h57.1M524.4,504.7h57.1M524.4,560.6h57.1M524.4,616.4h57.1M524.4,672.2h57.1M524.4,728.1h57.1M524.4,783.9h57.1M580.3,58.1h57.1M580.3,113.9h57.1M580.3,169.8h57.1M580.3,225.6h57.1M580.3,281.4h57.1M580.3,337.2h57.1M580.3,393.1h57.1M580.3,448.9h57.1M580.3,504.7h57.1M580.3,560.6h57.1M580.3,616.4h57.1M580.3,672.2h57.1M580.3,728.1h57.1M580.3,783.9h57.1M636.1,448.9h57.1M636.1,504.7h57.1M636.1,560.6h57.1M636.1,616.4h57.1M636.1,672.2h57.1M636.1,728.1h57.1M636.1,783.9h57.1M692.0,560.6h57.1M692.0,616.4h57.1M692.0,672.2h57.1M692.0,728.1h57.1M357.4,225.0v57.0M357.4,280.8v57.0M357.4,336.6v57.0M357.4,727.5v57.0M413.3,169.2v57.0M413.3,225.0v57.0M413.3,280.8v57.0M413.3,336.6v57.0M413.3,392.5v57.0M413.3,448.3v57.0M413.3,615.8v57.0M413.3,671.6v57.0M413.3,727.5v57.0M469.1,169.2v57.0M469.1,225.0v57.0M469.1,280.8v57.0M469.1,336.6v57.0M469.1,392.5v57.0M469.1,448.3v57.0M469.1,504.1v57.0M469.1,560.0v57.0M469.1,615.8v57.0M469.1,671.6v57.0M469.1,727.5v57.0M525.0,57.5v57.0M525.0,113.3v57.0M525.0,169.2v57.0M525.0,225.0v57.0M525.0,280.8v57.0M525.0,336.6v57.0M525.0,392.5v57.0M525.0,448.3v57.0M525.0,504.1v57.0M525.0,560.0v57.0M525.0,615.8v57.0M525.0,671.6v57.0M525.0,727.5v57.0M580.9,57.5v57.0M580.9,113.3v57.0M580.9,169.2v57.0M580.9,225.0v57.0M580.9,280.8v57.0M580.9,336.6v57.0M580.9,392.5v57.0M580.9,448.3v57.0M580.9,504.1v57.0M580.9,560.0v57.0M580.9,615.8v57.0M580.9,671.6v57.0M580.9,727.5v57.0M636.8,57.5v57.0M636.8,113.3v57.0M636.8,169.2v57.0M636.8,225.0v57.0M636.8,280.8v57.0M636.8,336.6v57.0M636.8,392.5v57.0M636.8,448.3v57.0M636.8,504.1v57.0M636.8,560.0v57.0M636.8,615.8v57.0M636.8,671.6v57.0M636.8,727.5v57.0M692.6,448.3v57.0M692.6,504.1v57.0M692.6,560.0v57.0M692.6,615.8v57.0M692.6,671.6v57.0M692.6,727.5v57.0M748.5,560.0v57.0M748.5,615.8v57.0M748.5,671.6v57.0"/>
<g font-size="23.4" fill="#2d2d2c">
<text x="534.1" y="94.0" textLength="38.5" lengthAdjust="spacingAndGlyphs">HO</text>
<text x="593.1" y="94.0" textLength="32.2" lengthAdjust="spacingAndGlyphs">HP</text>
<text x="535.5" y="149.8" textLength="35.7" lengthAdjust="spacingAndGlyphs">HT</text>
<text x="591.5" y="149.8" textLength="35.5" lengthAdjust="spacingAndGlyphs">HU</text>
<text x="418.3" y="205.7" textLength="46.7" lengthAdjust="spacingAndGlyphs">HW</text>
<text x="478.4" y="205.7" textLength="38.2" lengthAdjust="spacingAndGlyphs">HX</text>
<text x="535.5" y="205.7" textLength="35.7" lengthAdjust="spacingAndGlyphs">HY</text>
<text x="590.6" y="205.7" textLength="37.2" lengthAdjust="spacingAndGlyphs">HZ</text>
<text x="368.1" y="261.5" textLength="35.2" lengthAdjust="spacingAndGlyphs">NA</text>
<text x="425.3" y="261.5" textLength="32.7" lengthAdjust="spacingAndGlyphs">NB</text>
<text x="480.4" y="261.5" textLength="34.2" lengthAdjust="spacingAndGlyphs">NC</text>
<text x="535.2" y="261.5" textLength="36.2" lengthAdjust="spacingAndGlyphs">ND</text>
<text x="595.0" y="261.5" textLength="28.5" lengthAdjust="spacingAndGlyphs">NE</text>
<text x="371.1" y="317.3" textLength="29.2" lengthAdjust="spacingAndGlyphs">NF</text>
<text x="423.8" y="317.3" textLength="35.7" lengthAdjust="spacingAndGlyphs">NG</text>
<text x="480.1" y="317.3" textLength="34.7" lengthAdjust="spacingAndGlyphs">NH</text>
<text x="540.2" y="313.7" textLength="26.2" lengthAdjust="spacingAndGlyphs">NJ</text>
<text x="592.9" y="317.3" textLength="32.7" lengthAdjust="spacingAndGlyphs">NK</text>
<text x="371.5" y="373.2" textLength="28.5" lengthAdjust="spacingAndGlyphs">NL</text>
<text x="422.5" y="373.2" textLength="38.2" lengthAdjust="spacingAndGlyphs">NM</text>
<text x="480.9" y="373.2" textLength="33.2" lengthAdjust="spacingAndGlyphs" fill="#fff">NN</text>
<text x="534.8" y="373.2" textLength="37.0" lengthAdjust="spacingAndGlyphs">NO</text>
<text x="593.9" y="373.2" textLength="30.7" lengthAdjust="spacingAndGlyphs">NP</text>
<text x="424.7" y="429.0" textLength="33.9" lengthAdjust="spacingAndGlyphs">NR</text>
<text x="482.2" y="429.0" textLength="30.5" lengthAdjust="spacingAndGlyphs">NS</text>
<text x="536.2" y="429.0" textLength="34.2" lengthAdjust="spacingAndGlyphs">NT</text>
<text x="592.2" y="429.0" textLength="34.0" lengthAdjust="spacingAndGlyphs">NU</text>
<text x="419.0" y="484.8" textLength="45.2" lengthAdjust="spacingAndGlyphs">NW</text>
<text x="479.1" y="484.8" textLength="36.7" lengthAdjust="spacingAndGlyphs">NX</text>
<text x="536.2" y="484.8" textLength="34.2" lengthAdjust="spacingAndGlyphs">NY</text>
<text x="591.4" y="484.8" textLength="35.7" lengthAdjust="spacingAndGlyphs">NZ</text>
<text x="645.3" y="484.8" textLength="39.5" lengthAdjust="spacingAndGlyphs">OV</text>
<text x="481.7" y="540.7" textLength="31.5" lengthAdjust="spacingAndGlyphs">SC</text>
<text x="536.6" y="540.7" textLength="33.5" lengthAdjust="spacingAndGlyphs">SD</text>
<text x="596.3" y="540.7" textLength="25.8" lengthAdjust="spacingAndGlyphs">SE</text>
<text x="647.0" y="540.7" textLength="36.2" lengthAdjust="spacingAndGlyphs">TA</text>
<text x="481.5" y="596.5" textLength="32.0" lengthAdjust="spacingAndGlyphs">SH</text>
<text x="541.6" y="592.9" textLength="23.5" lengthAdjust="spacingAndGlyphs">SJ</text>
<text x="594.2" y="596.5" textLength="30.0" lengthAdjust="spacingAndGlyphs">SK</text>
<text x="650.0" y="596.5" textLength="30.2" lengthAdjust="spacingAndGlyphs">TF</text>
<text x="702.6" y="596.5" textLength="36.7" lengthAdjust="spacingAndGlyphs">TG</text>
<text x="423.9" y="652.3" textLength="35.5" lengthAdjust="spacingAndGlyphs">SM</text>
<text x="482.2" y="652.3" textLength="30.5" lengthAdjust="spacingAndGlyphs">SN</text>
<text x="536.2" y="652.3" textLength="34.3" lengthAdjust="spacingAndGlyphs">SO</text>
<text x="595.2" y="652.3" textLength="28.0" lengthAdjust="spacingAndGlyphs">SP</text>
<text x="650.3" y="652.3" textLength="29.5" lengthAdjust="spacingAndGlyphs">TL</text>
<text x="701.4" y="652.3" textLength="39.2" lengthAdjust="spacingAndGlyphs">TM</text>
<text x="426.0" y="708.1" textLength="31.2" lengthAdjust="spacingAndGlyphs">SR</text>
<text x="483.6" y="708.1" textLength="27.8" lengthAdjust="spacingAndGlyphs">SS</text>
<text x="537.6" y="708.1" textLength="31.5" lengthAdjust="spacingAndGlyphs">ST</text>
<text x="593.6" y="708.1" textLength="31.3" lengthAdjust="spacingAndGlyphs">SU</text>
<text x="646.2" y="708.1" textLength="37.7" lengthAdjust="spacingAndGlyphs">TQ</text>
<text x="703.5" y="708.1" textLength="34.9" lengthAdjust="spacingAndGlyphs">TR</text>
<text x="369.2" y="764.0" textLength="33.0" lengthAdjust="spacingAndGlyphs">SV</text>
<text x="420.4" y="764.0" textLength="42.5" lengthAdjust="spacingAndGlyphs">SW</text>
<text x="480.5" y="764.0" textLength="34.0" lengthAdjust="spacingAndGlyphs">SX</text>
<text x="537.6" y="764.0" textLength="31.5" lengthAdjust="spacingAndGlyphs">SY</text>
<text x="592.7" y="764.0" textLength="33.0" lengthAdjust="spacingAndGlyphs">SZ</text>
<text x="646.7" y="764.0" textLength="36.7" lengthAdjust="spacingAndGlyphs">TV</text>
</g>
<text transform="translate(49.5,99.6) scale(1.000,1)" font-size="50.00" font-weight="400" fill="#423a92" textLength="221.5" lengthAdjust="spacing" stroke="#423a92" stroke-width="0.5">BRITISH</text>
<text transform="translate(49.5,160.9) scale(1.000,1)" font-size="50.00" font-weight="400" fill="#423a92" textLength="301.6" lengthAdjust="spacing" stroke="#423a92" stroke-width="0.5">NATIONAL</text>
<text transform="translate(49.4,221.6) scale(1.000,1)" font-size="50.00" font-weight="400" fill="#423a92" textLength="139.1" lengthAdjust="spacing" stroke="#423a92" stroke-width="0.5">GRID</text>
<text x="50.0" y="307.5" font-size="28.50" font-weight="400" fill="#423a92" textLength="245.2" lengthAdjust="spacingAndGlyphs" stroke="#423a92" stroke-width="0.2">How does it work?</text>
<text x="50.0" y="348.6" font-size="23.40" font-weight="400" fill="#1d1d1b" textLength="165.8" lengthAdjust="spacingAndGlyphs" stroke="#fff" stroke-width="0.36">Great Britain is</text>
<text x="50.0" y="380.4" font-size="23.40" font-weight="400" fill="#1d1d1b" textLength="169.8" lengthAdjust="spacingAndGlyphs" stroke="#fff" stroke-width="0.36">covered by grid</text>
<text x="50.0" y="412.6" font-size="23.40" font-weight="400" fill="#1d1d1b" textLength="202.8" lengthAdjust="spacingAndGlyphs" stroke="#fff" stroke-width="0.36">squares measuring</text>
<text x="50.0" y="444.7" font-size="23.40" font-weight="700" fill="#1d1d1b" textLength="77.6" lengthAdjust="spacingAndGlyphs" stroke="#fff" stroke-width="0.60">100km</text>
<text x="133.0" y="444.7" font-size="23.40" font-weight="400" fill="#1d1d1b" textLength="172.8" lengthAdjust="spacingAndGlyphs" stroke="#fff" stroke-width="0.36">across and each</text>
<text x="50.0" y="476.6" font-size="23.40" font-weight="400" fill="#1d1d1b" textLength="235.0" lengthAdjust="spacingAndGlyphs" stroke="#fff" stroke-width="0.36">square is identified by</text>
<text x="50.0" y="508.5" font-size="23.40" font-weight="400" fill="#1d1d1b" textLength="127.2" lengthAdjust="spacingAndGlyphs" stroke="#fff" stroke-width="0.36">two letters.</text>
<path d="M50.4,773.3H140.6M108.7,739.8L141,773.3L108.7,806.8" fill="none" stroke="#423a92" stroke-width="6.6" stroke-linecap="round" stroke-linejoin="round"/>
<g clip-path="url(#mini)">
<g transform="translate(916.2,130.7) scale(0.8072) translate(-497.07,-365.17)">
<use href="#land"/>
<rect x="469.1" y="337.2" width="55.9" height="55.8" fill="#2076bd"/>
<path fill="none" stroke="#2f82c9" stroke-width="1.25" d="M413.3,225.6V504.7M469.1,225.6V504.7M525.0,225.6V504.7M580.9,225.6V504.7M357.4,281.4H636.8M357.4,337.2H636.8M357.4,393.1H636.8M357.4,448.9H636.8"/>
</g></g>
<g font-size="18.8" fill="#2d2d2c">
<text x="856.9" y="92.1" textLength="28.9" lengthAdjust="spacingAndGlyphs">NG</text>
<text x="902.4" y="92.1" textLength="28.1" lengthAdjust="spacingAndGlyphs">NH</text>
<text x="951.0" y="89.1" textLength="21.2" lengthAdjust="spacingAndGlyphs">NJ</text>
<text x="855.9" y="137.2" textLength="30.9" lengthAdjust="spacingAndGlyphs">NM</text>
<text x="903.1" y="137.2" textLength="26.9" lengthAdjust="spacingAndGlyphs" fill="#fff">NN</text>
<text x="946.6" y="137.2" textLength="30.0" lengthAdjust="spacingAndGlyphs">NO</text>
<text x="857.7" y="182.3" textLength="27.5" lengthAdjust="spacingAndGlyphs">NR</text>
<text x="904.1" y="182.3" textLength="24.7" lengthAdjust="spacingAndGlyphs">NS</text>
<text x="947.7" y="182.3" textLength="27.7" lengthAdjust="spacingAndGlyphs">NT</text>
</g>
<text transform="translate(1209.5,325.2) scale(1.135,1)" font-size="163" fill="#d7e9f7" letter-spacing="-5.5">NN</text>
<rect x="1381.8" y="269.3" width="41.3" height="41.3" fill="#2076bd"/>
<path fill="none" stroke="#7ab3e5" stroke-width="0.9" d="M1175.3,62.8V475.8M1134.0,104.1H1547.0M1216.6,62.8V475.8M1134.0,145.4H1547.0M1257.9,62.8V475.8M1134.0,186.7H1547.0M1299.2,62.8V475.8M1134.0,228.0H1547.0M1340.5,62.8V475.8M1134.0,269.3H1547.0M1381.8,62.8V475.8M1134.0,310.6H1547.0M1423.1,62.8V475.8M1134.0,351.9H1547.0M1464.4,62.8V475.8M1134.0,393.2H1547.0M1505.7,62.8V475.8M1134.0,434.5H1547.0"/>
<rect x="1134.0" y="62.8" width="413.0" height="413.0" fill="none" stroke="#2076bd" stroke-width="1.8"/>
<g font-size="23.7" fill="#3f90d2" stroke="#3f90d2" stroke-width="0.25" text-anchor="middle">
<text transform="translate(1155.1,464.2) scale(0.94,1)">00</text>
<text transform="translate(1155.1,422.9) scale(0.94,1)">01</text>
<text transform="translate(1155.1,381.6) scale(0.94,1)">02</text>
<text transform="translate(1155.1,340.3) scale(0.94,1)">03</text>
<text transform="translate(1155.1,299.0) scale(0.94,1)">04</text>
<text transform="translate(1155.1,257.7) scale(0.94,1)">05</text>
<text transform="translate(1155.1,216.4) scale(0.94,1)">06</text>
<text transform="translate(1155.1,175.1) scale(0.94,1)">07</text>
<text transform="translate(1155.1,133.8) scale(0.94,1)">08</text>
<text transform="translate(1155.1,92.5) scale(0.94,1)">09</text>
<text transform="translate(1196.4,464.2) scale(0.94,1)">10</text>
<text transform="translate(1196.4,422.9) scale(0.94,1)">11</text>
<text transform="translate(1196.4,381.6) scale(0.94,1)">12</text>
<text transform="translate(1196.4,340.3) scale(0.94,1)">13</text>
<text transform="translate(1196.4,299.0) scale(0.94,1)">14</text>
<text transform="translate(1196.4,257.7) scale(0.94,1)">15</text>
<text transform="translate(1196.4,216.4) scale(0.94,1)">16</text>
<text transform="translate(1196.4,175.1) scale(0.94,1)">17</text>
<text transform="translate(1196.4,133.8) scale(0.94,1)">18</text>
<text transform="translate(1196.4,92.5) scale(0.94,1)">19</text>
<text transform="translate(1237.7,464.2) scale(0.94,1)">20</text>
<text transform="translate(1237.7,422.9) scale(0.94,1)">21</text>
<text transform="translate(1237.7,381.6) scale(0.94,1)">22</text>
<text transform="translate(1237.7,340.3) scale(0.94,1)">23</text>
<text transform="translate(1237.7,299.0) scale(0.94,1)">24</text>
<text transform="translate(1237.7,257.7) scale(0.94,1)">25</text>
<text transform="translate(1237.7,216.4) scale(0.94,1)">26</text>
<text transform="translate(1237.7,175.1) scale(0.94,1)">27</text>
<text transform="translate(1237.7,133.8) scale(0.94,1)">28</text>
<text transform="translate(1237.7,92.5) scale(0.94,1)">29</text>
<text transform="translate(1279.0,464.2) scale(0.94,1)">30</text>
<text transform="translate(1279.0,422.9) scale(0.94,1)">31</text>
<text transform="translate(1279.0,381.6) scale(0.94,1)">32</text>
<text transform="translate(1279.0,340.3) scale(0.94,1)">33</text>
<text transform="translate(1279.0,299.0) scale(0.94,1)">34</text>
<text transform="translate(1279.0,257.7) scale(0.94,1)">35</text>
<text transform="translate(1279.0,216.4) scale(0.94,1)">36</text>
<text transform="translate(1279.0,175.1) scale(0.94,1)">37</text>
<text transform="translate(1279.0,133.8) scale(0.94,1)">38</text>
<text transform="translate(1279.0,92.5) scale(0.94,1)">39</text>
<text transform="translate(1320.2,464.2) scale(0.94,1)">40</text>
<text transform="translate(1320.2,422.9) scale(0.94,1)">41</text>
<text transform="translate(1320.2,381.6) scale(0.94,1)">42</text>
<text transform="translate(1320.2,340.3) scale(0.94,1)">43</text>
<text transform="translate(1320.2,299.0) scale(0.94,1)">44</text>
<text transform="translate(1320.2,257.7) scale(0.94,1)">45</text>
<text transform="translate(1320.2,216.4) scale(0.94,1)">46</text>
<text transform="translate(1320.2,175.1) scale(0.94,1)">47</text>
<text transform="translate(1320.2,133.8) scale(0.94,1)">48</text>
<text transform="translate(1320.2,92.5) scale(0.94,1)">49</text>
<text transform="translate(1361.6,464.2) scale(0.94,1)">50</text>
<text transform="translate(1361.6,422.9) scale(0.94,1)">51</text>
<text transform="translate(1361.6,381.6) scale(0.94,1)">52</text>
<text transform="translate(1361.6,340.3) scale(0.94,1)">53</text>
<text transform="translate(1361.6,299.0) scale(0.94,1)">54</text>
<text transform="translate(1361.6,257.7) scale(0.94,1)">55</text>
<text transform="translate(1361.6,216.4) scale(0.94,1)">56</text>
<text transform="translate(1361.6,175.1) scale(0.94,1)">57</text>
<text transform="translate(1361.6,133.8) scale(0.94,1)">58</text>
<text transform="translate(1361.6,92.5) scale(0.94,1)">59</text>
<text transform="translate(1402.9,464.2) scale(0.94,1)">60</text>
<text transform="translate(1402.9,422.9) scale(0.94,1)">61</text>
<text transform="translate(1402.9,381.6) scale(0.94,1)">62</text>
<text transform="translate(1402.9,340.3) scale(0.94,1)">63</text>
<text transform="translate(1402.9,299.0) scale(0.94,1)" fill="#fff" stroke="#fff">64</text>
<text transform="translate(1402.9,257.7) scale(0.94,1)">65</text>
<text transform="translate(1402.9,216.4) scale(0.94,1)">66</text>
<text transform="translate(1402.9,175.1) scale(0.94,1)">67</text>
<text transform="translate(1402.9,133.8) scale(0.94,1)">68</text>
<text transform="translate(1402.9,92.5) scale(0.94,1)">69</text>
<text transform="translate(1444.2,464.2) scale(0.94,1)">70</text>
<text transform="translate(1444.2,422.9) scale(0.94,1)">71</text>
<text transform="translate(1444.2,381.6) scale(0.94,1)">72</text>
<text transform="translate(1444.2,340.3) scale(0.94,1)">73</text>
<text transform="translate(1444.2,299.0) scale(0.94,1)">74</text>
<text transform="translate(1444.2,257.7) scale(0.94,1)">75</text>
<text transform="translate(1444.2,216.4) scale(0.94,1)">76</text>
<text transform="translate(1444.2,175.1) scale(0.94,1)">77</text>
<text transform="translate(1444.2,133.8) scale(0.94,1)">78</text>
<text transform="translate(1444.2,92.5) scale(0.94,1)">79</text>
<text transform="translate(1485.5,464.2) scale(0.94,1)">80</text>
<text transform="translate(1485.5,422.9) scale(0.94,1)">81</text>
<text transform="translate(1485.5,381.6) scale(0.94,1)">82</text>
<text transform="translate(1485.5,340.3) scale(0.94,1)">83</text>
<text transform="translate(1485.5,299.0) scale(0.94,1)">84</text>
<text transform="translate(1485.5,257.7) scale(0.94,1)">85</text>
<text transform="translate(1485.5,216.4) scale(0.94,1)">86</text>
<text transform="translate(1485.5,175.1) scale(0.94,1)">87</text>
<text transform="translate(1485.5,133.8) scale(0.94,1)">88</text>
<text transform="translate(1485.5,92.5) scale(0.94,1)">89</text>
<text transform="translate(1526.8,464.2) scale(0.94,1)">90</text>
<text transform="translate(1526.8,422.9) scale(0.94,1)">91</text>
<text transform="translate(1526.8,381.6) scale(0.94,1)">92</text>
<text transform="translate(1526.8,340.3) scale(0.94,1)">93</text>
<text transform="translate(1526.8,299.0) scale(0.94,1)">94</text>
<text transform="translate(1526.8,257.7) scale(0.94,1)">95</text>
<text transform="translate(1526.8,216.4) scale(0.94,1)">96</text>
<text transform="translate(1526.8,175.1) scale(0.94,1)">97</text>
<text transform="translate(1526.8,133.8) scale(0.94,1)">98</text>
<text transform="translate(1526.8,92.5) scale(0.94,1)">99</text>
</g>
<g font-size="23.5" fill="#1d1d1b" text-anchor="middle">
<text transform="translate(1117.2,483.2) scale(0.92,1)">0</text>
<text transform="translate(1133.7,501.4) scale(0.92,1)">0</text>
<text transform="translate(1117.2,441.9) scale(0.92,1)">1</text>
<text transform="translate(1175.0,501.4) scale(0.92,1)">1</text>
<text transform="translate(1117.2,400.6) scale(0.92,1)">2</text>
<text transform="translate(1216.3,501.4) scale(0.92,1)">2</text>
<text transform="translate(1117.2,359.3) scale(0.92,1)">3</text>
<text transform="translate(1257.6,501.4) scale(0.92,1)">3</text>
<text transform="translate(1117.2,318.0) scale(0.92,1)">4</text>
<text transform="translate(1298.9,501.4) scale(0.92,1)">4</text>
<text transform="translate(1117.2,276.7) scale(0.92,1)">5</text>
<text transform="translate(1340.2,501.4) scale(0.92,1)">5</text>
<text transform="translate(1117.2,235.4) scale(0.92,1)">6</text>
<text transform="translate(1381.5,501.4) scale(0.92,1)">6</text>
<text transform="translate(1117.2,194.1) scale(0.92,1)">7</text>
<text transform="translate(1422.8,501.4) scale(0.92,1)">7</text>
<text transform="translate(1117.2,152.8) scale(0.92,1)">8</text>
<text transform="translate(1464.1,501.4) scale(0.92,1)">8</text>
<text transform="translate(1117.2,111.5) scale(0.92,1)">9</text>
<text transform="translate(1505.4,501.4) scale(0.92,1)">9</text>
</g>
<text x="1133.3" y="542.7" font-size="22.60" font-weight="400" fill="#1d1d1b" textLength="81.3" lengthAdjust="spacingAndGlyphs">Eastings</text>
<path d="M1234.1,535.2H1516" stroke="#a9d0ee" stroke-width="1.9" fill="none"/>
<path d="M1512.5,529L1537,535.2L1512.5,541.4Z" fill="#a9d0ee"/>
<text transform="translate(1084.2,473.8) rotate(-90)" font-size="22.6" fill="#1d1d1b" textLength="98.6" lengthAdjust="spacingAndGlyphs">Northings</text>
<path d="M1079,350.7V93" stroke="#a9d0ee" stroke-width="1.9" fill="none"/>
<path d="M1072.7,96L1079,72.3L1085.3,96Z" fill="#a9d0ee"/>
<text x="848.3" y="614.3" font-size="28.50" font-weight="400" fill="#423a92" textLength="165.3" lengthAdjust="spacingAndGlyphs" stroke="#423a92" stroke-width="0.2">10km square</text>
<text x="847.5" y="655.2" font-size="23.40" font-weight="400" fill="#1d1d1b" textLength="281.9" lengthAdjust="spacingAndGlyphs" stroke="#fff" stroke-width="0.36">Each 100km x 100km grid</text>
<text x="847.5" y="687.6" font-size="23.40" font-weight="400" fill="#1d1d1b" textLength="324.5" lengthAdjust="spacingAndGlyphs" stroke="#fff" stroke-width="0.36">square is then split down into</text>
<text x="847.5" y="719.4" font-size="23.40" font-weight="700" fill="#1d1d1b" textLength="152.7" lengthAdjust="spacingAndGlyphs" stroke="#fff" stroke-width="0.60">10km x 10km</text>
<text x="1005.8" y="719.4" font-size="23.40" font-weight="400" fill="#1d1d1b" textLength="89.6" lengthAdjust="spacingAndGlyphs" stroke="#fff" stroke-width="0.36">squares.</text>
<text x="847.5" y="773.0" font-size="23.40" font-weight="400" fill="#1d1d1b" textLength="290.7" lengthAdjust="spacingAndGlyphs" stroke="#fff" stroke-width="0.36">Using this system, you can</text>
<text x="847.5" y="804.2" font-size="23.40" font-weight="400" fill="#1d1d1b" textLength="100.1" lengthAdjust="spacingAndGlyphs" stroke="#fff" stroke-width="0.36">identify a</text>
<text x="953.8" y="804.2" font-size="23.40" font-weight="700" fill="#1d1d1b" textLength="196.6" lengthAdjust="spacingAndGlyphs" stroke="#fff" stroke-width="0.60">10km grid square.</text>
<text x="1268.7" y="655.3" font-size="23.40" font-weight="400" fill="#1d1d1b" textLength="205.5" lengthAdjust="spacingAndGlyphs" stroke="#fff" stroke-width="0.36">In this example it’s:</text>
<text transform="translate(1267.9,729.9) scale(1.000,1)" font-size="45.00" font-weight="400" fill="#423a92" textLength="129.3" lengthAdjust="spacing" stroke="#423a92" stroke-width="0.5">NN64</text>
<path d="M1348.6,742.1H1397.6" stroke="#d81b5e" stroke-width="3.5" stroke-linecap="round"/>
<rect x="50.3" y="931.2" width="110.8" height="110.8" fill="#e6f1fa"/>
<rect x="117" y="986.6" width="11.1" height="11.3" fill="#2076bd"/>
<text transform="translate(67.4,1028.7) scale(1.080,1)" font-size="25.20" font-weight="400" fill="#8fc4eb" textLength="68.3" lengthAdjust="spacing" stroke="#8fc4eb" stroke-width="0.3">NN64</text>
<text x="82.0" y="1065.5" font-size="20.00" font-weight="400" fill="#2076bd" textLength="47.6" lengthAdjust="spacingAndGlyphs">10km</text>
<text transform="translate(418.5,1169.3) scale(1.020,1)" font-size="91.60" font-weight="400" fill="#daebf8" textLength="240.7" lengthAdjust="spacing">NN64</text>
<rect x="418.5" y="973.0" width="41.3" height="41.3" fill="#2076bd"/>
<path fill="none" stroke="#7ab3e5" stroke-width="0.9" d="M377.3,931.7V1344.4M336.0,973.0H748.7M418.5,931.7V1344.4M336.0,1014.2H748.7M459.8,931.7V1344.4M336.0,1055.5H748.7M501.1,931.7V1344.4M336.0,1096.8H748.7M542.4,931.7V1344.4M336.0,1138.1H748.7M583.6,931.7V1344.4M336.0,1179.3H748.7M624.9,931.7V1344.4M336.0,1220.6H748.7M666.2,931.7V1344.4M336.0,1261.9H748.7M707.4,931.7V1344.4M336.0,1303.1H748.7"/>
<rect x="336.0" y="931.7" width="412.7" height="412.7" fill="none" stroke="#2076bd" stroke-width="2.2"/>
<g font-size="23.5" fill="#1d1d1b" text-anchor="middle">
<text transform="translate(319.2,1350.7) scale(0.92,1)">0</text>
<text transform="translate(335.6,1368.4) scale(0.92,1)">0</text>
<text transform="translate(319.2,1309.4) scale(0.92,1)">1</text>
<text transform="translate(376.9,1368.4) scale(0.92,1)">1</text>
<text transform="translate(319.2,1268.2) scale(0.92,1)">2</text>
<text transform="translate(418.1,1368.4) scale(0.92,1)">2</text>
<text transform="translate(319.2,1226.9) scale(0.92,1)">3</text>
<text transform="translate(459.4,1368.4) scale(0.92,1)">3</text>
<text transform="translate(319.2,1185.6) scale(0.92,1)">4</text>
<text transform="translate(500.7,1368.4) scale(0.92,1)">4</text>
<text transform="translate(319.2,1144.4) scale(0.92,1)">5</text>
<text transform="translate(542.0,1368.4) scale(0.92,1)">5</text>
<text transform="translate(319.2,1103.1) scale(0.92,1)">6</text>
<text transform="translate(583.2,1368.4) scale(0.92,1)">6</text>
<text transform="translate(319.2,1061.8) scale(0.92,1)">7</text>
<text transform="translate(624.5,1368.4) scale(0.92,1)">7</text>
<text transform="translate(319.2,1020.5) scale(0.92,1)">8</text>
<text transform="translate(665.8,1368.4) scale(0.92,1)">8</text>
<text transform="translate(319.2,979.3) scale(0.92,1)">9</text>
<text transform="translate(707.0,1368.4) scale(0.92,1)">9</text>
</g>
<text x="335.2" y="1410.1" font-size="22.60" font-weight="400" fill="#1d1d1b" textLength="81.3" lengthAdjust="spacingAndGlyphs">Eastings</text>
<path d="M431.9,1403.6H714" stroke="#a9d0ee" stroke-width="1.9" fill="none"/>
<path d="M710.5,1397.4L735,1403.6L710.5,1409.8Z" fill="#a9d0ee"/>
<text transform="translate(286,1342.5) rotate(-90)" font-size="22.6" fill="#1d1d1b" textLength="100.4" lengthAdjust="spacingAndGlyphs">Northings</text>
<path d="M277.6,1219.5V963" stroke="#a9d0ee" stroke-width="1.9" fill="none"/>
<path d="M270.9,966.4L277.6,941.6L284.3,966.4Z" fill="#a9d0ee"/>
<text x="50.0" y="1483.1" font-size="28.50" font-weight="400" fill="#423a92" textLength="148.2" lengthAdjust="spacingAndGlyphs" stroke="#423a92" stroke-width="0.2">1km square</text>
<text x="50.0" y="1523.4" font-size="23.40" font-weight="400" fill="#1d1d1b" textLength="266.2" lengthAdjust="spacingAndGlyphs" stroke="#fff" stroke-width="0.36">These 10km squares are</text>
<text x="49.0" y="1556.3" font-size="23.40" font-weight="400" fill="#1d1d1b" textLength="293.5" lengthAdjust="spacingAndGlyphs" stroke="#fff" stroke-width="0.36">divided again into 10, giving</text>
<text x="50.0" y="1588.3" font-size="23.40" font-weight="400" fill="#1d1d1b" textLength="139.7" lengthAdjust="spacingAndGlyphs" stroke="#fff" stroke-width="0.36">1km squares.</text>
<text x="50.0" y="1640.4" font-size="23.40" font-weight="400" fill="#1d1d1b" textLength="258.7" lengthAdjust="spacingAndGlyphs" stroke="#fff" stroke-width="0.36">From this you can get a</text>
<text x="49.0" y="1671.7" font-size="23.40" font-weight="700" fill="#1d1d1b" textLength="254.7" lengthAdjust="spacingAndGlyphs" stroke="#fff" stroke-width="0.60">4-figure grid reference.</text>
<text x="470.5" y="1523.6" font-size="23.40" font-weight="400" fill="#1d1d1b" textLength="205.1" lengthAdjust="spacingAndGlyphs" stroke="#fff" stroke-width="0.36">Along the corridor</text>
<text x="470.5" y="1556.5" font-size="23.40" font-weight="400" fill="#1d1d1b" textLength="228.9" lengthAdjust="spacingAndGlyphs" stroke="#fff" stroke-width="0.36">(Easting), then up the</text>
<text x="470.5" y="1588.6" font-size="23.40" font-weight="400" fill="#1d1d1b" textLength="184.8" lengthAdjust="spacingAndGlyphs" stroke="#fff" stroke-width="0.36">stairs (Northing).</text>
<text transform="translate(469.8,1661.9) scale(1.000,1)" font-size="44.00" font-weight="400" fill="#423a92" textLength="187.0" lengthAdjust="spacing" stroke="#423a92" stroke-width="0.5">NN6248</text>
<path d="M574.3,1673.9H602.2M629.9,1673.9H658.2" stroke="#d81b5e" stroke-width="3.5" stroke-linecap="round"/>
<rect x="848.2" y="922.2" width="111.2" height="110.4" fill="#e6f1fa"/>
<rect x="871" y="933" width="11" height="11" fill="#2076bd"/>
<text transform="translate(856.2,1016.5) scale(1.080,1)" font-size="22.50" font-weight="400" fill="#8fc4eb" textLength="87.0" lengthAdjust="spacing" stroke="#8fc4eb" stroke-width="0.3">NN6248</text>
<text x="885.9" y="1055.5" font-size="20.00" font-weight="400" fill="#2076bd" textLength="36.0" lengthAdjust="spacingAndGlyphs">1km</text>
<rect x="1270.9" y="1060.1" width="137.5" height="137.5" fill="#e8f2fb"/>
<path fill="none" stroke="#5ea3dc" stroke-width="0.9" d="M1284.65,1060.1V1197.6M1270.9,1073.85H1408.4M1298.40,1060.1V1197.6M1270.9,1087.60H1408.4M1312.15,1060.1V1197.6M1270.9,1101.35H1408.4M1325.90,1060.1V1197.6M1270.9,1115.10H1408.4M1339.65,1060.1V1197.6M1270.9,1128.85H1408.4M1353.40,1060.1V1197.6M1270.9,1142.60H1408.4M1367.15,1060.1V1197.6M1270.9,1156.35H1408.4M1380.90,1060.1V1197.6M1270.9,1170.10H1408.4M1394.65,1060.1V1197.6M1270.9,1183.85H1408.4"/>
<rect x="1312.15" y="1115.10" width="13.75" height="13.75" fill="#2076bd"/>
<path fill="none" stroke="#7db6e6" stroke-width="1.1" d="M1270.9,922.6V1335.1M1133.4,1060.1H1545.9M1408.4,922.6V1335.1M1133.4,1197.6H1545.9"/>
<rect x="1133.4" y="922.6" width="412.5" height="412.5" fill="none" stroke="#2076bd" stroke-width="2.2"/>
<g font-size="12.3" fill="#1d1d1b" text-anchor="middle">
<text transform="translate(1263.2,1187.8) scale(0.9,1)">1</text>
<text transform="translate(1284.1,1212.8) scale(0.9,1)">1</text>
<text transform="translate(1263.2,1174.0) scale(0.9,1)">2</text>
<text transform="translate(1297.8,1212.8) scale(0.9,1)">2</text>
<text transform="translate(1263.2,1160.2) scale(0.9,1)">3</text>
<text transform="translate(1311.6,1212.8) scale(0.9,1)">3</text>
<text transform="translate(1263.2,1146.5) scale(0.9,1)">4</text>
<text transform="translate(1325.3,1212.8) scale(0.9,1)">4</text>
<text transform="translate(1263.2,1132.8) scale(0.9,1)">5</text>
<text transform="translate(1339.1,1212.8) scale(0.9,1)">5</text>
<text transform="translate(1263.2,1119.0) scale(0.9,1)">6</text>
<text transform="translate(1352.8,1212.8) scale(0.9,1)">6</text>
<text transform="translate(1263.2,1105.2) scale(0.9,1)">7</text>
<text transform="translate(1366.6,1212.8) scale(0.9,1)">7</text>
<text transform="translate(1263.2,1091.5) scale(0.9,1)">8</text>
<text transform="translate(1380.3,1212.8) scale(0.9,1)">8</text>
<text transform="translate(1263.2,1077.8) scale(0.9,1)">9</text>
<text transform="translate(1394.1,1212.8) scale(0.9,1)">9</text>
<text transform="translate(1263.2,1212.8) scale(0.9,1)">0</text>
</g>
<g font-size="23.2" fill="#1d1d1b">
<text x="1094.3" y="927.8">50</text>
<text x="1094.3" y="1066.1">49</text>
<text x="1094.3" y="1204.0">48</text>
<text x="1094.3" y="1337.9">47</text>
<text x="1120.9" y="1359.6">61</text>
<text x="1257.2" y="1359.6">62</text>
<text x="1395.6" y="1359.6">63</text>
<text x="1532.9" y="1359.6">64</text>
</g>
<text x="848.0" y="1473.1" font-size="28.50" font-weight="400" fill="#423a92" textLength="167.8" lengthAdjust="spacingAndGlyphs" stroke="#423a92" stroke-width="0.2">100m square</text>
<text x="847.5" y="1513.9" font-size="23.40" font-weight="400" fill="#1d1d1b" textLength="322.5" lengthAdjust="spacingAndGlyphs" stroke="#fff" stroke-width="0.36">Finally, these 1km squares can</text>
<text x="847.5" y="1546.5" font-size="23.40" font-weight="400" fill="#1d1d1b" textLength="291.7" lengthAdjust="spacingAndGlyphs" stroke="#fff" stroke-width="0.36">be broken down again into</text>
<text x="847.5" y="1578.3" font-size="23.40" font-weight="400" fill="#1d1d1b" textLength="157.7" lengthAdjust="spacingAndGlyphs" stroke="#fff" stroke-width="0.36">100m squares.</text>
<text x="847.5" y="1630.4" font-size="23.40" font-weight="400" fill="#1d1d1b" textLength="266.7" lengthAdjust="spacingAndGlyphs" stroke="#fff" stroke-width="0.36">From this you can give a</text>
<text x="847.5" y="1662.4" font-size="23.40" font-weight="700" fill="#1d1d1b" textLength="250.3" lengthAdjust="spacingAndGlyphs" stroke="#fff" stroke-width="0.60">6-figure grid reference</text>
<text x="1103.0" y="1662.4" font-size="23.40" font-weight="400" fill="#1d1d1b" textLength="24.6" lengthAdjust="spacingAndGlyphs" stroke="#fff" stroke-width="0.36">of</text>
<text x="847.5" y="1694.2" font-size="23.40" font-weight="400" fill="#1d1d1b" textLength="150.2" lengthAdjust="spacingAndGlyphs" stroke="#fff" stroke-width="0.36">your location.</text>
<text x="1268.7" y="1514.7" font-size="23.40" font-weight="700" fill="#1d1d1b" textLength="255.7" lengthAdjust="spacingAndGlyphs" stroke="#fff" stroke-width="0.55">6-figure grid reference:</text>
<text transform="translate(1268.8,1588.9) scale(1.000,1)" font-size="44.00" font-weight="400" fill="#423a92" textLength="238.3" lengthAdjust="spacing" stroke="#423a92" stroke-width="0.5">NN623485</text>
<path d="M1399.3,1600.6H1427.6M1481.9,1600.6H1509.7" stroke="#d81b5e" stroke-width="3.5" stroke-linecap="round"/>
</svg></body></html>
